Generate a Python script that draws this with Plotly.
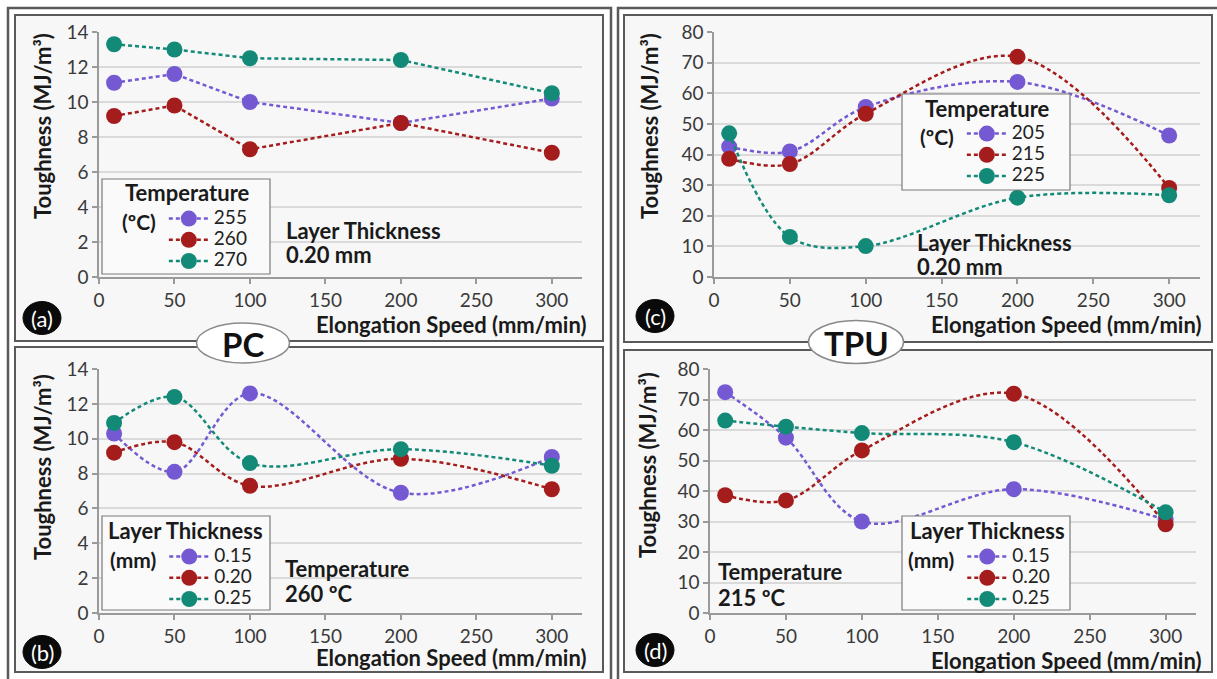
import plotly.graph_objects as go

W, H = 1217, 679
FONT = "Lato"

# ---------------- data ----------------
speed = [10, 50, 100, 200, 300]
x_ticks = [0, 50, 100, 150, 200, 250, 300]

pc_temp_labels = ["255", "260", "270"]
pc_temp_255 = [11.1, 11.6, 10.0, 8.8, 10.2]
pc_temp_260 = [9.2, 9.8, 7.3, 8.8, 7.1]
pc_temp_270 = [13.3, 13.0, 12.5, 12.4, 10.5]

pc_lt_labels = ["0.15", "0.20", "0.25"]
pc_lt_015 = [10.3, 8.1, 12.6, 6.9, 8.95]
pc_lt_020 = [9.2, 9.8, 7.3, 8.85, 7.1]
pc_lt_025 = [10.9, 12.4, 8.6, 9.4, 8.45]

tpu_temp_labels = ["205", "215", "225"]
tpu_temp_205 = [42.6, 41.0, 55.5, 63.7, 46.2]
tpu_temp_215 = [38.6, 36.9, 53.3, 71.9, 29.1]
tpu_temp_225 = [46.9, 13.1, 10.1, 25.9, 26.7]

tpu_lt_labels = ["0.15", "0.20", "0.25"]
tpu_lt_015 = [72.4, 57.5, 30.0, 40.6, 30.6]
tpu_lt_020 = [38.6, 36.9, 53.3, 71.9, 29.1]
tpu_lt_025 = [63.1, 61.1, 59.0, 56.0, 33.0]

colors = ["#7459d2", "#a51c1c", "#138a78"]


def px(x):
    return x / W


def py(y):
    return 1 - y / H


fig = go.Figure()

panels = [
    ("", "legend", [pc_temp_255, pc_temp_260, pc_temp_270], pc_temp_labels, "linear"),
    ("2", "legend2", [pc_lt_015, pc_lt_020, pc_lt_025], pc_lt_labels, "spline"),
    ("3", "legend3", [tpu_temp_205, tpu_temp_215, tpu_temp_225], tpu_temp_labels, "spline"),
    ("4", "legend4", [tpu_lt_015, tpu_lt_020, tpu_lt_025], tpu_lt_labels, "spline"),
]

for suf, leg, series, labels, shape in panels:
    for vals, lab, col in zip(series, labels, colors):
        fig.add_trace(go.Scatter(
            x=speed, y=vals,
            name="<span style='font-size:19px'>" + lab + "</span>",
            mode="lines+markers",
            xaxis="x" + suf, yaxis="y" + suf, legend=leg,
            line=dict(color=col, width=2.5, dash="4px,3px", shape=shape, smoothing=1.0),
            marker=dict(color=col, size=16),
            hoverinfo="x+y",
        ))

tickfont = dict(family=FONT, size=19, color="#3a3a3a")


def xax(domain, anchor):
    return dict(domain=domain, anchor=anchor, range=[0, 320], tickvals=x_ticks,
                showline=True, linecolor="#9a9a9a", linewidth=1.5,
                ticks="outside", ticklen=5, tickcolor="#9a9a9a", tickwidth=1.5,
                showgrid=False, zeroline=False, tickfont=tickfont, fixedrange=True,
                automargin=False)


def yax(domain, anchor, top, step):
    return dict(domain=domain, anchor=anchor, range=[0, top], dtick=step, tick0=0,
                showline=True, linecolor="#9a9a9a", linewidth=1.5,
                ticks="outside", ticklen=5, tickcolor="#9a9a9a", tickwidth=1.5,
                showgrid=True, gridcolor="#dadada", gridwidth=1.5,
                zeroline=False, tickfont=tickfont, fixedrange=True, automargin=False)


top_dom = [py(277), py(32)]
bot_dom = [py(613), py(369)]

shapes = []
annotations = []

# outer frames of the two halves
for x0, x1 in [(8, 611), (618, 1225)]:
    shapes.append(dict(type="rect", xref="paper", yref="paper",
                       x0=px(x0), x1=px(x1), y0=py(690), y1=py(8),
                       line=dict(color="#5a5a5a", width=2.5), layer="below"))
# panel boxes
for x0, x1, y0, y1 in [(15, 603, 15, 341), (15, 603, 347, 672),
                       (624, 1212, 15, 342), (624, 1212, 350, 672)]:
    shapes.append(dict(type="rect", xref="paper", yref="paper",
                       x0=px(x0), x1=px(x1), y0=py(y1), y1=py(y0),
                       fillcolor="#f7f7f7",
                       line=dict(color="#5a5a5a", width=2), layer="below"))

# legend boxes
for bx0, bx1, by0, by1 in [(102, 270, 179, 274), (102, 270, 516, 610),
                           (902, 1070, 94, 190), (902, 1070, 516, 610)]:
    shapes.append(dict(type="rect", xref="paper", yref="paper",
                       x0=px(bx0), x1=px(bx1), y0=py(by1), y1=py(by0),
                       fillcolor="#fafafa", line=dict(color="#7a7a7a", width=1.2),
                       layer="above"))

# material ellipses
for cx, cy, w, h, txt in [(243, 343, 93, 40, "PC"), (856, 342, 95, 43, "TPU")]:
    shapes.append(dict(type="circle", xref="paper", yref="paper",
                       x0=px(cx - w / 2), x1=px(cx + w / 2), y0=py(cy + h / 2), y1=py(cy - h / 2),
                       fillcolor="white", line=dict(color="#8a8a8a", width=1.5), layer="above"))
    annotations.append(dict(text="<b>" + txt + "</b>", x=px(cx), y=py(cy + 1), xref="paper", yref="paper",
                            showarrow=False, xanchor="center", yanchor="middle",
                            font=dict(family=FONT, size=33, color="#111")))

# panel letters
for cx, cy, txt in [(42, 318, "(a)"), (42, 652, "(b)"), (655, 316, "(c)"), (655, 650, "(d)")]:
    shapes.append(dict(type="circle", xref="paper", yref="paper",
                       x0=px(cx - 19), x1=px(cx + 19), y0=py(cy + 16.5), y1=py(cy - 16.5),
                       fillcolor="#0a0a0a", line=dict(color="#0a0a0a", width=1), layer="above"))
    annotations.append(dict(text=txt, x=px(cx), y=py(cy), xref="paper", yref="paper",
                            showarrow=False, xanchor="center", yanchor="middle",
                            font=dict(family=FONT, size=22, color="white")))


def note(text, x, y, xanchor="left", angle=0, size=22):
    annotations.append(dict(text="<b>" + text + "</b>", x=px(x), y=py(y), xref="paper", yref="paper",
                            showarrow=False, xanchor=xanchor, yanchor="middle", textangle=angle,
                            font=dict(family=FONT, size=size, color="#1a1a1a")))


# axis titles
for xr, yv in [(588, 324), (588, 657), (1203, 324), (1203, 660)]:
    note("Elongation Speed (mm/min)", xr, yv, xanchor="right")
for xv, yv in [(42, 126), (42, 467), (649, 126), (647, 465)]:
    note("Toughness (MJ/m³)", xv, yv, xanchor="center", angle=-90)

# legend headings
note("Temperature", 187, 192, xanchor="center")
note("Layer Thickness", 185, 530, xanchor="center")
note("Temperature", 987, 108, xanchor="center")
note("Layer Thickness", 987, 530, xanchor="center")

# condition notes
note("Layer Thickness", 284, 230)
note("0.20 mm", 284, 254)
note("Temperature", 283, 568)
note("260 ºC", 283, 593)
note("Layer Thickness", 915, 242)
note("0.20 mm", 915, 267)
note("Temperature", 716, 571)
note("215 ºC", 716, 597)


def legend_cfg(x, y, title):
    return dict(x=px(x), y=py(y), xanchor="left", yanchor="top", xref="paper", yref="paper",
                bgcolor="rgba(0,0,0,0)", borderwidth=0, itemwidth=40, tracegroupgap=0,
                font=dict(family=FONT, size=14, color="#222"),
                title=dict(text="<b>" + title + "</b>", side="left",
                           font=dict(family=FONT, size=21, color="#1a1a1a")),
                itemclick=False, itemdoubleclick=False)


fig.update_layout(
    width=W, height=H, autosize=False,
    margin=dict(l=0, r=0, t=0, b=0, pad=0, autoexpand=False),
    paper_bgcolor="white", plot_bgcolor="rgba(0,0,0,0)",
    font=dict(family=FONT),
    showlegend=True,
    xaxis=xax([px(99), px(582)], "y"),
    yaxis=yax(top_dom, "x", 14, 2),
    xaxis2=xax([px(99), px(582)], "y2"),
    yaxis2=yax(bot_dom, "x2", 14, 2),
    xaxis3=xax([px(714), px(1199.5)], "y3"),
    yaxis3=yax(top_dom, "x3", 80, 10),
    xaxis4=xax([px(710), px(1196)], "y4"),
    yaxis4=yax(bot_dom, "x4", 80, 10),
    legend=legend_cfg(120, 203, "(ºC)"),
    legend2=legend_cfg(108, 541, "(mm)"),
    legend3=legend_cfg(918, 118, "(ºC)"),
    legend4=legend_cfg(906, 541, "(mm)"),
    shapes=shapes,
    annotations=annotations,
)

fig.write_html("out.html")
